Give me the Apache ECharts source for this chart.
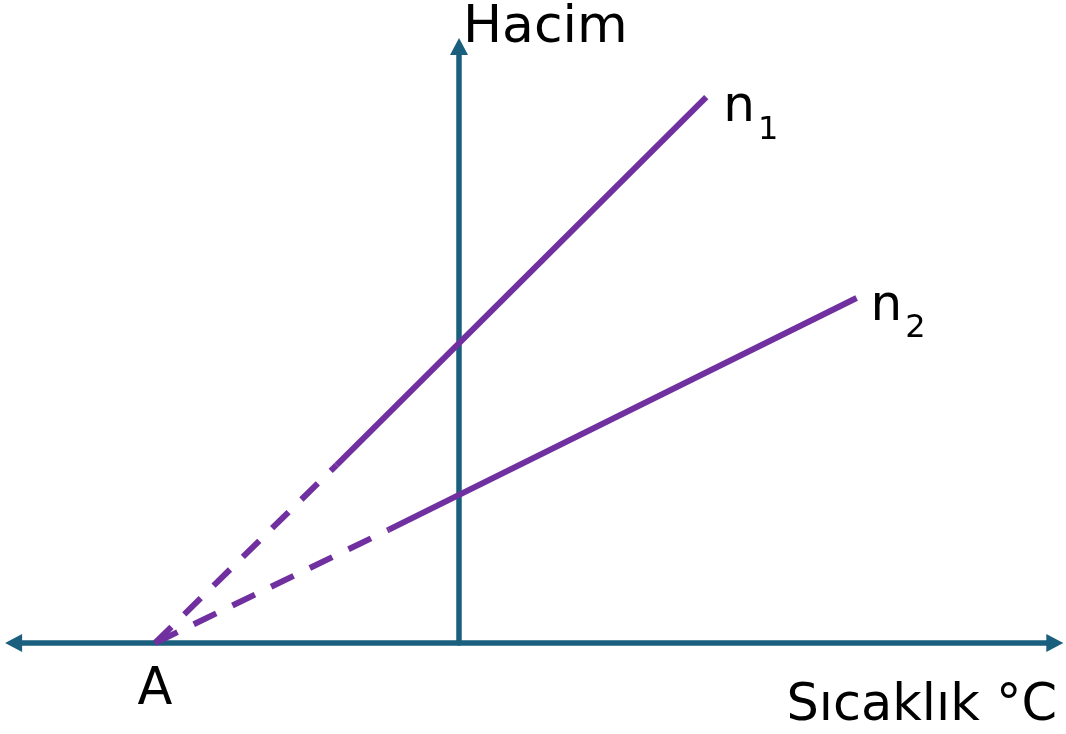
<!DOCTYPE html>
<html>
<head>
<meta charset="utf-8">
<script src="https://cdn.jsdelivr.net/npm/echarts@6/dist/echarts.min.js"></script>
<style>html,body{margin:0;padding:0;background:#fff}#c{width:1066px;height:734px}</style>
</head>
<body>
<div id="c"></div>
<script>
// Data (temperature in °C, volume in arbitrary units)
const xTitle = 'Sıcaklık °C';
const yTitle = 'Hacim';
const pointA = [-273, 0];
const n1Dashed = [[-273, 0], [-110, 1.79]];
const n1Solid = [[-110, 1.79], [222, 5.49]];
const n2Dashed = [[-273, 0], [-63, 1.14]];
const n2Solid = [[-63, 1.14], [357, 3.47]];
const seriesNames = ['n1', 'n2'];
const xRange = [-400, 535];
const yRange = [0, 6];

const axisColor = '#1a5f7e';
const purple = '#7030a0';
const font = 'DejaVu Sans';

const chart = echarts.init(document.getElementById('c'), null, {renderer: 'canvas'});

function endLabel(sub, dist, dy) {
  return {
    show: true,
    distance: dist,
    offset: [0, dy],
    color: '#000',
    formatter: '{n|n}{s|' + sub + '}',
    rich: {
      n: {fontSize: 50, fontFamily: font, color: '#000', lineHeight: 56, verticalAlign: 'top'},
      s: {fontSize: 32, fontFamily: font, color: '#000', lineHeight: 32, verticalAlign: 'top', padding: [31, 0, 0, 3]}
    }
  };
}

const option = {
  animation: false,
  backgroundColor: '#fff',
  title: [
    {text: yTitle, left: 463, top: 2, padding: 0, textStyle: {fontSize: 52, fontWeight: 'normal', fontFamily: font, color: '#000'}},
    {text: xTitle, right: 9, top: 681, padding: 0, textStyle: {fontSize: 51, fontWeight: 'normal', fontFamily: font, color: '#000'}}
  ],
  grid: {left: 13.6, right: 11.2, top: 46.5, bottom: 91},
  xAxis: {
    type: 'value', min: xRange[0], max: xRange[1],
    axisLine: {show: true, onZero: true, symbol: ['triangle', 'triangle'], symbolSize: [18, 17], lineStyle: {color: axisColor, width: 5.5}},
    axisTick: {show: false}, axisLabel: {show: false}, splitLine: {show: false}
  },
  yAxis: {
    type: 'value', min: yRange[0], max: yRange[1],
    axisLine: {show: true, onZero: true, symbol: ['none', 'triangle'], symbolSize: [18, 17], lineStyle: {color: axisColor, width: 5.5}},
    axisTick: {show: false}, axisLabel: {show: false}, splitLine: {show: false}
  },
  series: [
    {
      name: seriesNames[0] + ' dashed', type: 'line', data: n1Dashed, symbol: 'none',
      lineStyle: {color: purple, width: 6, type: [23, 18], cap: 'butt'}, z: 3
    },
    {
      name: seriesNames[0], type: 'line', symbol: 'none', data: n1Solid,
      lineStyle: {color: purple, width: 6}, z: 3,
      endLabel: endLabel('1', 17, 14)
    },
    {
      name: seriesNames[1] + ' dashed', type: 'line', data: n2Dashed, symbol: 'none',
      lineStyle: {color: purple, width: 6, type: [25, 18], cap: 'butt'}, z: 3
    },
    {
      name: seriesNames[1], type: 'line', symbol: 'none', data: n2Solid,
      lineStyle: {color: purple, width: 6}, z: 3,
      endLabel: endLabel('2', 14, 12)
    },
    {
      name: 'A', type: 'scatter', symbolSize: 0, itemStyle: {opacity: 1},
      data: [{value: pointA, label: {show: true, position: 'bottom', distance: 22, formatter: 'A', fontSize: 51, fontFamily: font, color: '#000'}}],
      z: 4
    }
  ]
};
chart.setOption(option);
</script>
</body>
</html>
